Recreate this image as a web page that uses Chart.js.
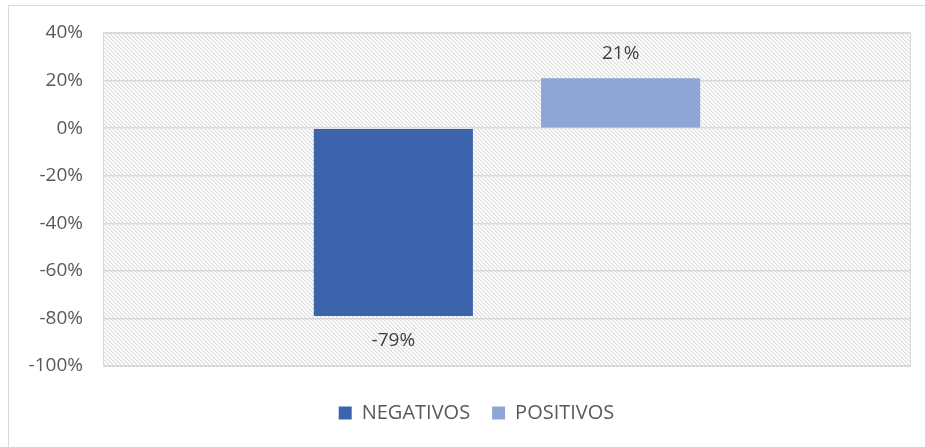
<!DOCTYPE html>
<html lang="es">
<head>
  <meta charset="UTF-8" />
  <title>Negativos / Positivos</title>
  <script src="https://cdn.jsdelivr.net/npm/chart.js"></script>
  <style>
    html, body { margin: 0; padding: 0; background: #fff; }
    #wrap { width: 925px; height: 447px; position: relative; }
  </style>
</head>
<body>
  <div id="wrap"><canvas id="grafico" width="925" height="447"></canvas></div>

  <script>
    // datos
    const categorias = [''];
    const series = ['NEGATIVOS', 'POSITIVOS'];
    const valores = [[-79], [21]];
    const colores = ['#3c64ad', '#8fa5d5'];
    const yMin = -100, yMax = 40, yPaso = 20;

    const fuente = '"Open Sans", "Liberation Sans", sans-serif';

    // patrón rayado del fondo
    function crearRayado() {
      const c = document.createElement('canvas');
      c.width = 4; c.height = 4;
      const g = c.getContext('2d');
      g.fillStyle = '#ffffff';
      g.fillRect(0, 0, 4, 4);
      g.fillStyle = '#d9d9d9';
      for (let i = 0; i < 4; i++) {
        g.fillRect(i, i, 1, 1);
      }
      g.fillStyle = '#efefef';
      for (let i = 0; i < 4; i++) {
        g.fillRect((i + 1) % 4, i, 1, 1);
      }
      return c;
    }

    const fondoRayado = {
      id: 'fondoRayado',
      afterLayout(chart) {
        // la leyenda va algo desplazada a la derecha
        chart.legend.left += 21;
        chart.legend.right += 21;
      },
      beforeDraw(chart) {
        const { ctx, chartArea: a } = chart;
        ctx.save();
        // borde exterior
        ctx.strokeStyle = '#d9d9d9';
        ctx.lineWidth = 1;
        ctx.strokeRect(8.5, 5.5, 930, 450);
        ctx.fillStyle = ctx.createPattern(crearRayado(), 'repeat');
        ctx.fillRect(a.left, a.top, a.right - a.left, a.bottom - a.top);
        ctx.restore();
      },
      afterDatasetsDraw(chart) {
        const { ctx, chartArea: a } = chart;
        ctx.save();
        ctx.strokeStyle = '#d9d9d9';
        ctx.lineWidth = 1;
        ctx.strokeRect(a.left + 0.5, a.top + 0.5, a.right - a.left - 1, a.bottom - a.top);
        ctx.restore();
      }
    };

    // etiquetas de valores
    const etiquetas = {
      id: 'etiquetas',
      afterDatasetsDraw(chart) {
        const { ctx } = chart;
        ctx.save();
        ctx.font = '19px ' + fuente;
        ctx.fillStyle = '#404040';
        ctx.textAlign = 'center';
        ctx.textBaseline = 'middle';
        chart.data.datasets.forEach((ds, i) => {
          chart.getDatasetMeta(i).data.forEach((bar, j) => {
            const v = ds.data[j];
            const y = v >= 0 ? bar.y - 25 : bar.y + 25;
            ctx.fillText(v + '%', bar.x, y);
          });
        });
        ctx.restore();
      }
    };

    new Chart(document.getElementById('grafico'), {
      type: 'bar',
      data: {
        labels: categorias,
        datasets: series.map((s, i) => ({
          label: s,
          data: valores[i],
          backgroundColor: colores[i],
          borderWidth: 0,
          categoryPercentage: 0.5626,
          barPercentage: 0.70
        }))
      },
      options: {
        responsive: false,
        animation: false,
        layout: { padding: { left: 0, top: 33, right: 14, bottom: 14 } },
        plugins: {
          legend: {
            position: 'bottom',
            labels: {
              boxWidth: 13,
              boxHeight: 13,
              color: '#595959',
              padding: 22,
              font: { family: fuente, size: 20 }
            }
          },
          tooltip: { enabled: false }
        },
        scales: {
          x: {
            grid: { display: false },
            border: { display: false },
            ticks: { display: false },
            afterFit(s) { s.height = 15; }
          },
          y: {
            min: yMin,
            max: yMax,
            ticks: {
              stepSize: yPaso,
              color: '#595959',
              padding: 20,
              font: { family: fuente, size: 19 },
              callback: v => v + '%'
            },
            grid: { color: '#d9d9d9', lineWidth: 1.5, drawTicks: false },
            border: { display: false },
            afterFit(s) { s.width = 103; }
          }
        }
      },
      plugins: [fondoRayado, etiquetas]
    });
  </script>
</body>
</html>
